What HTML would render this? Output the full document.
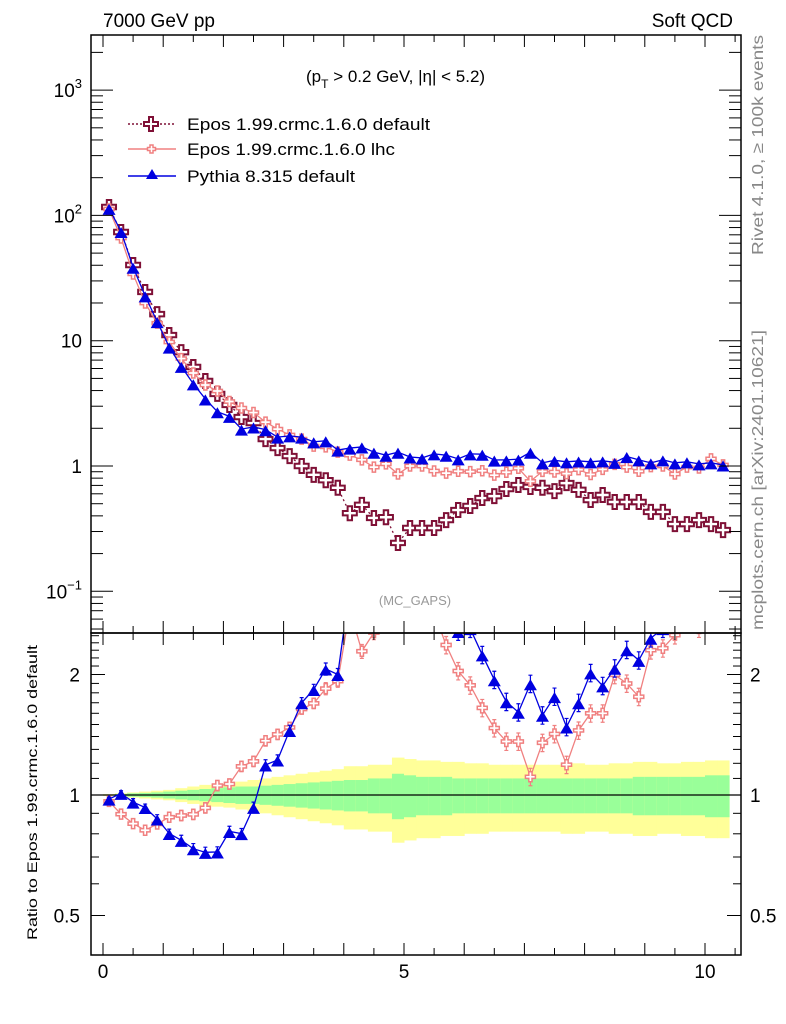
<!DOCTYPE html>
<html><head><meta charset="utf-8"><style>
body{margin:0;background:#fff;}
svg{display:block;font-family:"Liberation Sans",sans-serif;}
</style></head><body>
<svg id="chart" width="786" height="1024" viewBox="0 0 786 1024" xmlns="http://www.w3.org/2000/svg">
<text x="103" y="27" font-size="19">7000 GeV pp</text>
<text x="733" y="27" font-size="19" text-anchor="end">Soft QCD</text>
<text x="306" y="82" font-size="17">(p<tspan font-size="12" dy="6">T</tspan><tspan dy="-6"> &gt; 0.2 GeV, |η| &lt; 5.2)</tspan></text>
<text x="415" y="605" font-size="13" fill="#999" text-anchor="middle">(MC_GAPS)</text>
<text transform="translate(763,255) rotate(-90)" font-size="16" fill="#888" textLength="220" lengthAdjust="spacingAndGlyphs">Rivet 4.1.0, ≥ 100k events</text>
<text transform="translate(763,630) rotate(-90)" font-size="16" fill="#888" textLength="300" lengthAdjust="spacingAndGlyphs">mcplots.cern.ch [arXiv:2401.10621]</text>
<text transform="translate(37,940) rotate(-90)" font-size="14" textLength="295" lengthAdjust="spacingAndGlyphs">Ratio to Epos 1.99.crmc.1.6.0 default</text>
<g id="legend">
<g>
<line x1="128" y1="124" x2="176" y2="124" stroke="#7f1036" stroke-width="1.5" stroke-dasharray="2,2"/>
<path d="M149,117h4v5h5v4h-5v5h-4v-5h-5v-4h5z" fill="#fff" stroke="#7f1036" stroke-width="2"/>
<text x="187" y="130" font-size="17" textLength="243" lengthAdjust="spacingAndGlyphs">Epos 1.99.crmc.1.6.0 default</text></g>
<g>
<line x1="128" y1="149" x2="176" y2="149" stroke="#f08080" stroke-width="1.5"/>
<path d="M150,145h3v2.5h2.5v3h-2.5v2.5h-3v-2.5h-2.5v-3h2.5z" fill="#fff" stroke="#f08080" stroke-width="1.5"/>
<text x="187" y="155" font-size="17" textLength="208" lengthAdjust="spacingAndGlyphs">Epos 1.99.crmc.1.6.0 lhc</text></g>
<g>
<line x1="128" y1="176" x2="176" y2="176" stroke="#0000e0" stroke-width="1.5"/>
<path d="M152,169l6,10h-12z" fill="#0000e0"/>
<text x="187" y="182" font-size="17" textLength="168" lengthAdjust="spacingAndGlyphs">Pythia 8.315 default</text></g>
</g>
<g id="plot"></g>
</svg>
<script>
const binCenters=[0.1,0.3,0.5,0.7,0.9,1.1,1.3,1.5,1.7,1.9,2.1,2.3,2.5,2.7,2.9,3.1,3.3,3.5,3.7,3.9,4.1,4.3,4.5,4.7,4.9,5.1,5.3,5.5,5.7,5.9,6.1,6.3,6.5,6.7,6.9,7.1,7.3,7.5,7.7,7.9,8.1,8.3,8.5,8.7,8.9,9.1,9.3,9.5,9.7,9.9,10.1,10.3];
const eposDefault=[116.7,73.7,40.2,24.5,16.3,11.1,8.1,6.17,4.77,3.76,3.07,2.46,2.2,1.64,1.39,1.2,1.0,0.85,0.77,0.67,0.42,0.49,0.385,0.39,0.243,0.32,0.32,0.32,0.37,0.445,0.48,0.555,0.575,0.655,0.705,0.68,0.67,0.63,0.73,0.645,0.535,0.587,0.516,0.516,0.516,0.43,0.43,0.344,0.344,0.37,0.344,0.308];
const eposLhc=[112.5,66,34.1,20.0,13.8,9.77,7.2,5.52,4.43,3.97,3.27,2.9,2.67,2.24,1.97,1.77,1.64,1.44,1.42,1.29,1.22,1.12,0.98,1.04,0.863,1.0,1.0,0.912,0.877,0.908,0.902,0.916,0.845,0.891,0.959,0.755,0.905,0.895,0.869,0.935,0.856,0.939,1.03,0.98,0.908,0.989,1.0,0.863,0.98,0.964,1.14,1.02];
const pythia=[114,74.4,38.6,22.8,14.2,8.9,6.24,4.53,3.43,2.71,2.49,1.97,2.05,1.95,1.70,1.74,1.70,1.56,1.59,1.34,1.39,1.42,1.29,1.22,1.29,1.18,1.16,1.25,1.22,1.14,1.25,1.243,1.116,1.12,1.135,1.29,1.06,1.11,1.08,1.097,1.08,1.10,1.07,1.19,1.12,1.06,1.12,1.06,1.08,1.04,1.06,1.02];
const relErr=[0.01,0.015,0.02,0.02,0.025,0.025,0.03,0.03,0.03,0.03,0.03,0.03,0.03,0.03,0.03,0.03,0.03,0.03,0.035,0.035,0.04,0.04,0.04,0.04,0.05,0.05,0.05,0.05,0.05,0.05,0.05,0.05,0.05,0.05,0.05,0.05,0.05,0.05,0.05,0.05,0.05,0.05,0.05,0.05,0.05,0.05,0.05,0.05,0.05,0.05,0.05,0.05];
const bandYellow=[0.005,0.01,0.015,0.02,0.025,0.03,0.04,0.05,0.06,0.065,0.07,0.08,0.09,0.1,0.11,0.12,0.13,0.14,0.15,0.16,0.18,0.18,0.19,0.19,0.24,0.23,0.22,0.22,0.21,0.21,0.2,0.2,0.19,0.19,0.19,0.19,0.19,0.19,0.2,0.2,0.19,0.19,0.2,0.2,0.21,0.21,0.2,0.2,0.21,0.21,0.22,0.22];
const bandGreen=[0.003,0.006,0.01,0.012,0.015,0.02,0.025,0.03,0.035,0.04,0.045,0.05,0.05,0.055,0.06,0.065,0.07,0.075,0.08,0.085,0.09,0.09,0.1,0.1,0.13,0.12,0.11,0.11,0.11,0.1,0.1,0.1,0.1,0.1,0.1,0.1,0.1,0.1,0.1,0.1,0.1,0.1,0.1,0.1,0.11,0.11,0.11,0.11,0.11,0.11,0.12,0.12];
const xTicks=[0,5,10];
const mainTicks=[[1000,'10','3'],[100,'10','2'],[10,'10',''],[1,'1',''],[0.1,'10','−1']];
const ratioTicks=[2,1,0.5];

const NS='http://www.w3.org/2000/svg';
const L=91,R=741,T=35,M=633,B=955,binW=0.2;
const X=v=>103+60.2*v;
const YM=v=>466-125.3*Math.log10(v);
const YR=r=>795-120.5*Math.log2(r);
const g=document.getElementById('plot');
function mk(tag,at,parent){const e=document.createElementNS(NS,tag);for(const k in at)e.setAttribute(k,at[k]);(parent||g).appendChild(e);return e;}
const defs=mk('defs',{});
const c1=mk('clipPath',{id:'cm'},defs);mk('rect',{x:L,y:T,width:R-L,height:M-T},c1);
const c2=mk('clipPath',{id:'cr'},defs);mk('rect',{x:L,y:M,width:R-L,height:B-M},c2);
const bands=mk('g',{'clip-path':'url(#cr)'});


binCenters.forEach((c,i)=>{
  const x0=X(c-binW/2),x1=X(c+binW/2);
  const y=mk('rect',{x:x0,y:YR(1+bandYellow[i]),width:x1-x0+0.5,height:YR(1-bandYellow[i])-YR(1+bandYellow[i]),fill:'#ffff99'},bands);
  
  
  const gr=mk('rect',{x:x0,y:YR(1+bandGreen[i]),width:x1-x0+0.5,height:YR(1-bandGreen[i])-YR(1+bandGreen[i]),fill:'#99ff99'},bands);
  
  
});
const one=mk('line',{x1:L,x2:R,y1:YR(1),y2:YR(1),stroke:'#000','stroke-width':1.2});


function cross(cx,cy,s,a){return `M${cx-a},${cy-s}h${2*a}v${s-a}h${s-a}v${2*a}h${a-s}v${s-a}h${-2*a}v${a-s}h${a-s}v${-2*a}h${s-a}z`;}
function tri(cx,cy,s){return `M${cx},${cy-s}l${s},${1.7*s}h${-2*s}z`;}
const series=[
 {name:'epos-default',vals:eposDefault,col:'#7f1036',dash:'2,3',mk:'crossBig'},
 {name:'epos-lhc',vals:eposLhc,col:'#f08080',dash:null,mk:'crossSmall'},
 {name:'pythia',vals:pythia,col:'#0000e0',dash:null,mk:'tri'}];
function marker(s,x,y,par){
  let d,at;
  if(s.mk==='crossBig'){d=cross(x,y,7,2.2);at={d,fill:'#fff',stroke:s.col,'stroke-width':2};}
  else if(s.mk==='crossSmall'){d=cross(x,y,5,1.6);at={d,fill:'#fff',stroke:s.col,'stroke-width':1.5};}
  else {d=tri(x,y+2,6.5);at={d,fill:s.col};}
  return mk('path',at,par);
}
series.forEach(s=>{
  const gm=mk('g',{'clip-path':'url(#cm)'});
  
  
  const pts=s.vals.map((v,i)=>X(binCenters[i])+','+YM(v)).join(' ');
  const pl=mk('polyline',{points:pts,fill:'none',stroke:s.col,'stroke-width':1.3},gm);
  if(s.dash)pl.setAttribute('stroke-dasharray',s.dash);
  
  
  s.vals.forEach((v,i)=>{
    const m=marker(s,X(binCenters[i]),YM(v),gm);
    
    
  });
  if(s.name==='epos-default')return;
  const gr=mk('g',{'clip-path':'url(#cr)'});
  
  
  const rs=s.vals.map((v,i)=>v/eposDefault[i]);
  const rp=mk('polyline',{points:rs.map((r,i)=>X(binCenters[i])+','+YR(r)).join(' '),fill:'none',stroke:s.col,'stroke-width':1.3},gr);
  
  
  rs.forEach((r,i)=>{
    const x=X(binCenters[i]);
    const e=mk('path',{d:`M${x},${YR(r*(1+relErr[i]))}V${YR(r*(1-relErr[i]))}M${x-2},${YR(r*(1+relErr[i]))}h4M${x-2},${YR(r*(1-relErr[i]))}h4`,stroke:s.col,'stroke-width':1.2,fill:'none'},gr);
    
    
    const m=marker(s,x,YR(r),gr);
    
    
  });
});
[[T,M],[M,B]].forEach(([a,b],k)=>{
  const f=mk('rect',{x:L,y:a,width:R-L,height:b-a,fill:'none',stroke:'#000','stroke-width':1.5});
  
  
});
const ax=mk('g',{stroke:'#000','stroke-width':1});


for(let v=0;v<=10.5;v+=0.5){
  const len=(v%1===0)?12:7,x=X(v);
  [[T,1],[M,-1],[M,1],[B,-1]].forEach(([y,d])=>mk('line',{x1:x,x2:x,y1:y,y2:y+d*len},ax));
}
xTicks.forEach(v=>{const t=mk('text',{x:X(v),y:978,'font-size':19,'text-anchor':'middle',stroke:'none'});t.textContent=v;

});
const ay=mk('g',{stroke:'#000','stroke-width':1});


for(let e=-2;e<=3;e++)for(let k=1;k<=9;k++){
  const y=YM(k*Math.pow(10,e));if(y<T||y>M)continue;const len=k===1?22:12;
  mk('line',{x1:L,x2:L+len,y1:y,y2:y},ay);mk('line',{x1:R,x2:R-len,y1:y,y2:y},ay);
}
mainTicks.forEach(([v,b,s])=>{
  const t=mk('text',{x:82,y:YM(v)+7,'font-size':19,'text-anchor':'end',stroke:'none'});
  t.textContent=b;
  if(s){const ts=mk('tspan',{'font-size':13,dy:-9},t);ts.textContent=s;}
  
  
});
const ar=mk('g',{stroke:'#000','stroke-width':1});


[0.5,0.6,0.7,0.8,0.9,1,1.1,1.2,1.3,1.4,1.5,1.6,1.7,1.8,1.9,2,2.1,2.2,2.3,2.4,2.5].forEach(v=>{
  const y=YR(v);if(y<M||y>B)return;const len=(v===1||v===2||v===0.5)?14:8;
  mk('line',{x1:L,x2:L+len,y1:y,y2:y},ar);mk('line',{x1:R,x2:R-len,y1:y,y2:y},ar);
});
ratioTicks.forEach(v=>{
  const t=mk('text',{x:80,y:YR(v)+7,'font-size':19,'text-anchor':'end',stroke:'none'});t.textContent=v;
  
  
  const t2=mk('text',{x:750,y:YR(v)+7,'font-size':19,stroke:'none'});t2.textContent=v;
  
  
});
</script>
</body></html>
